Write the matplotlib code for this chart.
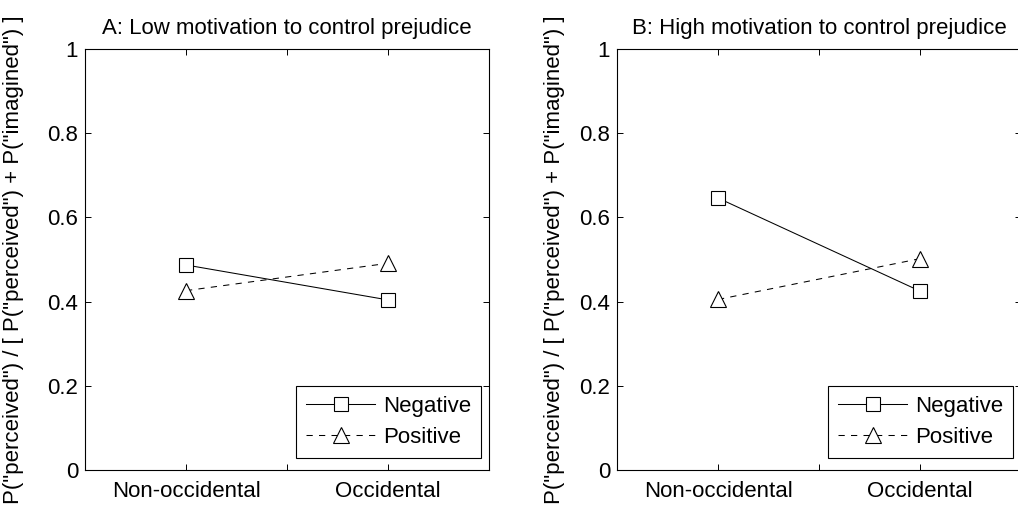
import matplotlib
matplotlib.use("Agg")
import matplotlib.pyplot as plt

plt.rcParams["font.family"] = ["Liberation Sans", "DejaVu Sans"]
plt.rcParams["font.size"] = 16

# datos
condiciones = ["Non-occidental", "Occidental"]
x_pos = [1, 2]
titulos = ["A: Low motivation to control prejudice",
           "B: High motivation to control prejudice"]
neg_baja = [0.487, 0.404]
pos_baja = [0.426, 0.491]
neg_alta = [0.646, 0.425]
pos_alta = [0.405, 0.502]
y_ticks = [0, 0.2, 0.4, 0.6, 0.8, 1]
y_ticklabels = ["0", "0.2", "0.4", "0.6", "0.8", "1"]
ylabel = 'P("perceived") / [ P("perceived") + P("imagined") ]'

fig = plt.figure(figsize=(10.18, 5.12), dpi=100)
ax1 = fig.add_axes([85/1018, 42/512, 404/1018, 421/512])
ax2 = fig.add_axes([617/1018, 42/512, 404/1018, 421/512])

paneles = [(ax1, neg_baja, pos_baja, titulos[0], -0.151),
           (ax2, neg_alta, pos_alta, titulos[1], -0.128)]

for ax, neg, pos, titulo, lab_x in paneles:
    ax.plot(x_pos, neg, color="k", linestyle="-", linewidth=0.75, marker="s",
            markersize=9.5, markerfacecolor="white", markeredgecolor="k",
            markeredgewidth=0.8, label="Negative")
    ax.plot(x_pos, pos, color="k", linestyle=(0, (6, 6)), linewidth=0.75,
            marker="^", markersize=11.5, markerfacecolor="white",
            markeredgecolor="k", markeredgewidth=0.8, label="Positive")

    ax.set_xlim(0.5, 2.5)
    ax.set_ylim(0, 1)
    ax.set_xticks([1, 1.5, 2])
    ax.set_xticklabels([condiciones[0], "", condiciones[1]])
    ax.set_yticks(y_ticks)
    ax.set_yticklabels(y_ticklabels)
    ax.tick_params(direction="in", top=True, right=True, length=4,
                   width=0.7, labelsize=16)
    ax.tick_params(axis="x", pad=8)
    ax.tick_params(axis="y", pad=5)
    for s in ax.spines.values():
        s.set_linewidth(0.8)

    ax.set_title(titulo, fontsize=16, pad=11)
    ax.set_ylabel(ylabel, fontsize=16)
    ax.yaxis.set_label_coords(lab_x, 0.5)

    leg = ax.legend(loc="lower right", bbox_to_anchor=(1 - 8/404, 12/421),
                    borderaxespad=0, fancybox=False, edgecolor="k",
                    framealpha=1, handlelength=3.1, handletextpad=0.35,
                    borderpad=0.45, labelspacing=0.45, fontsize=16)
    leg.get_frame().set_linewidth(0.8)

fig.savefig("out.png", dpi=100)
